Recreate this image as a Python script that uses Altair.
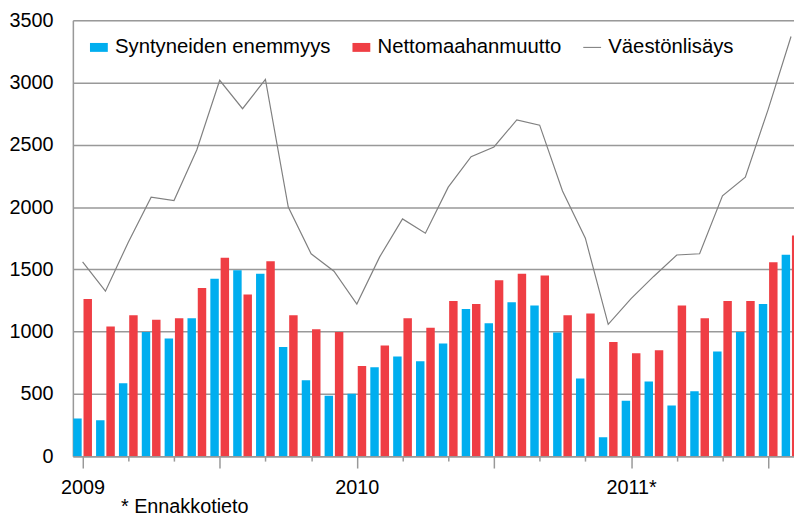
import altair as alt
import pandas as pd

# --- data ---
month_index = list(range(32))  # Jan 2009 .. Aug 2011
syntyneiden = [302, 289, 586, 997, 944, 1108, 1424, 1493, 1464, 877, 610, 485,
               501, 713, 801, 761, 904, 1182, 1068, 1235, 1209, 992, 623, 151,
               445, 599, 406, 522, 841, 997, 1222, 1618]
netto = [1262, 1042, 1132, 1095, 1108, 1350, 1594, 1299, 1565, 1132, 1018, 997,
         724, 888, 1108, 1031, 1246, 1222, 1413, 1464, 1450, 1132, 1146, 917,
         827, 851, 1209, 1108, 1246, 1246, 1557, 1772]
vaesto = [1560, 1325, 1718, 2080, 2052, 2460, 3018, 2790, 3025, 2000, 1625, 1485,
          1222, 1600, 1905, 1790, 2160, 2405, 2483, 2700, 2658, 2130, 1750, 1058,
          1265, 1445, 1615, 1625, 2090, 2240, 2785, 3370]
year_positions = [0, 12, 24]
year_labels = ["2009", "2010", "2011*"]
series_names = ["Syntyneiden enemmyys", "Nettomaahanmuutto", "Väestönlisäys"]
series_colors = ["#00AEEF", "#EF3E44", "#808080"]
y_ticks = [0, 500, 1000, 1500, 2000, 2500, 3000, 3500]

df = pd.DataFrame({"m": month_index, "blue": syntyneiden, "red": netto, "line": vaesto})
legend_df = pd.DataFrame({"series": series_names})

FONT = "Liberation Sans"
GRAY = "#999999"

label_expr = " : ".join(
    f"datum.value == {p} ? '{l}'" for p, l in zip(year_positions, year_labels)
) + " : ''"

x_scale = alt.Scale(domain=[-0.425, 31.13], nice=False, zero=False)
y_scale = alt.Scale(domain=[0, 3500], nice=False)

x_axis = alt.Axis(
    values=month_index,
    labelExpr=label_expr,
    title=None,
    grid=False,
    tickSize={"condition": {"test": "datum.value % 3 == 0", "value": 12}, "value": 5},
    tickColor=GRAY,
    tickWidth=1.5,
    domainColor=GRAY,
    domainWidth=1.5,
    labelFont=FONT,
    labelFontSize=20,
    labelColor="#000000",
    labelPadding=10,
    labelFlush=False,
    labelOverlap=False,
    labelBaseline="top",
)
y_axis = alt.Axis(
    values=y_ticks,
    format="d",
    title=None,
    grid=True,
    gridColor=GRAY,
    gridWidth=1.5,
    tickSize=0,
    domainColor=GRAY,
    domainWidth=1.5,
    labelFont=FONT,
    labelFontSize=20,
    labelColor="#000000",
    labelPadding=20,
    labelFlush=False,
)

base = alt.Chart(df)

blue_bars = base.transform_calculate(
    x0="datum.m - 0.41", x1="datum.m - 0.04"
).mark_bar(color=series_colors[0], clip=True).encode(
    x=alt.X("x0:Q", scale=x_scale, axis=x_axis),
    x2="x1:Q",
    y=alt.Y("blue:Q", scale=y_scale, axis=y_axis),
    y2=alt.datum(0),
)

red_bars = base.transform_calculate(
    x0="datum.m + 0.04", x1="datum.m + 0.41"
).mark_bar(color=series_colors[1], clip=True).encode(
    x=alt.X("x0:Q", scale=x_scale),
    x2="x1:Q",
    y=alt.Y("red:Q", scale=y_scale),
    y2=alt.datum(0),
)

line = base.mark_line(color=series_colors[2], strokeWidth=1.2, clip=True).encode(
    x=alt.X("m:Q", scale=x_scale),
    y=alt.Y("line:Q", scale=y_scale),
)

rect_path = "M -1 -0.5 L 1 -0.5 L 1 0.5 L -1 0.5 Z"
line_path = "M -1 -0.06 L 1 -0.06 L 1 0.06 L -1 0.06 Z"

def make_legend():
    return alt.Legend(
        title=None,
        orient="none",
        legendX=16,
        legendY=17,
        direction="horizontal",
        labelFont=FONT,
        labelFontSize=20.5,
        labelColor="#000000",
        labelLimit=0,
        labelOffset=6,
        columnPadding=20,
        symbolSize=324,
        symbolStrokeWidth=0,
        symbolOpacity=1,
        padding=0,
    )

legend_layer = alt.Chart(legend_df).mark_point(
    filled=True, size=324, opacity=1, clip=True
).encode(
    x=alt.value(-100),
    y=alt.value(-100),
    color=alt.Color(
        "series:N",
        scale=alt.Scale(domain=series_names, range=series_colors),
        legend=make_legend(),
    ),
    shape=alt.Shape(
        "series:N",
        scale=alt.Scale(domain=series_names, range=[rect_path, rect_path, line_path]),
        legend=make_legend(),
    ),
)

chart = alt.layer(blue_bars, red_bars, line, legend_layer).properties(
    width=728,
    height=440,
    padding={"left": 65.5, "top": 10, "right": 0, "bottom": 56},
    autosize=alt.AutoSizeParams(type="none"),
    title=alt.TitleParams(
        "* Ennakkotieto",
        orient="bottom",
        anchor="start",
        frame="group",
        dx=48.5,
        offset=-1,
        font=FONT,
        fontSize=20,
        fontWeight="normal",
        color="#000000",
    ),
).configure_view(stroke=None).configure(background="white")

chart.save("out.html", embed_options={"renderer": "svg", "actions": False})
